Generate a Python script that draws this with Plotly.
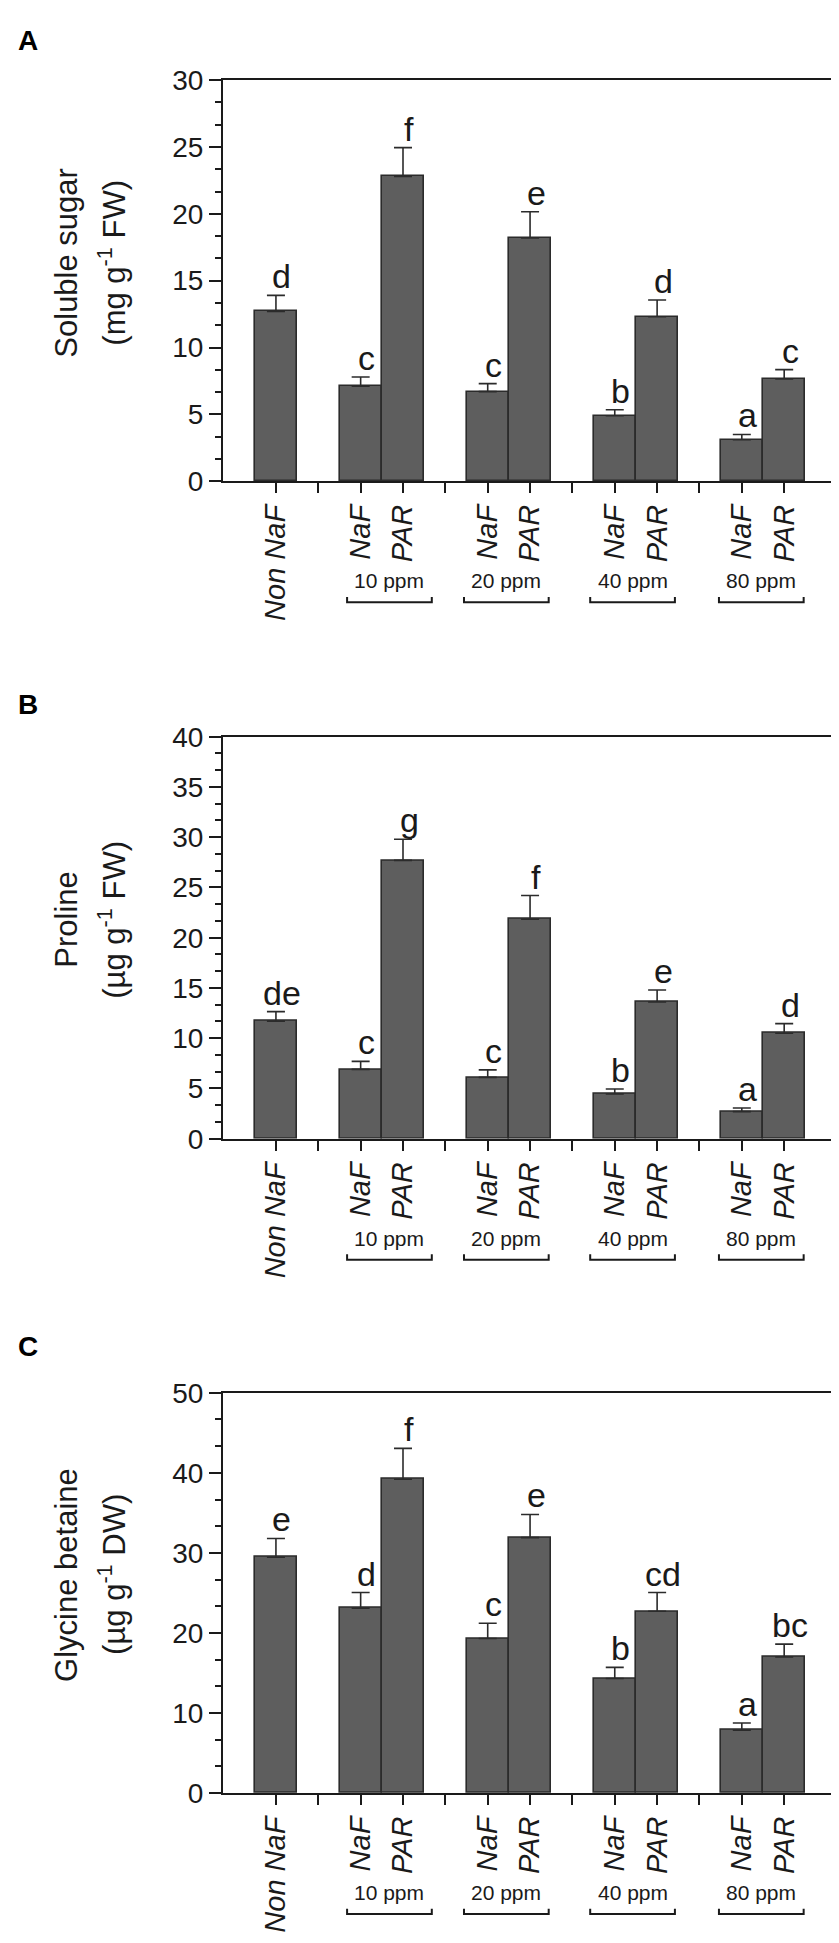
import plotly.graph_objects as go

# x-axis slots: every integer gets a tick, blank slots separate the groups
TICK_LABELS = ["Non NaF", "", "NaF", "PAR", "", "NaF", "PAR", "", "NaF", "PAR", "", "NaF", "PAR"]
GROUPS = ["10 ppm", "20 ppm", "40 ppm", "80 ppm"]

SUGAR_MEAN = [12.7, 7.1, 22.8, 6.7, 18.2, 4.9, 12.3, 3.1, 7.65]
SUGAR_SE = [1.2, 0.7, 2.15, 0.6, 1.95, 0.45, 1.25, 0.4, 0.7]
SUGAR_LETTERS = ["d", "c", "f", "c", "e", "b", "d", "a", "c"]

PROLINE_MEAN = [11.7, 6.9, 27.7, 6.1, 21.85, 4.45, 13.6, 2.7, 10.5]
PROLINE_SE = [0.95, 0.8, 2.1, 0.75, 2.35, 0.5, 1.2, 0.35, 0.95]
PROLINE_LETTERS = ["de", "c", "g", "c", "f", "b", "e", "a", "d"]

GB_MEAN = [29.45, 23.1, 39.2, 19.3, 31.9, 14.3, 22.7, 7.85, 17.0]
GB_SE = [2.35, 1.95, 3.85, 1.9, 2.9, 1.4, 2.35, 0.9, 1.6]
GB_LETTERS = ["e", "d", "f", "c", "e", "b", "cd", "a", "bc"]

PANELS = [
    dict(tag="A", title=("Soluble sugar", "(mg g<sup>-1</sup> FW)"),
         mean=SUGAR_MEAN, se=SUGAR_SE, letters=SUGAR_LETTERS, ymax=30, dtick=5),
    dict(tag="B", title=("Proline", "(µg g<sup>-1</sup> FW)"),
         mean=PROLINE_MEAN, se=PROLINE_SE, letters=PROLINE_LETTERS, ymax=40, dtick=5),
    dict(tag="C", title=("Glycine betaine", "(µg g<sup>-1</sup> DW)"),
         mean=GB_MEAN, se=GB_SE, letters=GB_LETTERS, ymax=50, dtick=10),
]

W, H = 839, 1943
LEFT, RIGHT = 215, 827
# pixel rows of each plot area (top, bottom) and of the panel letters
PANEL_PX = [(58, 465.7), (725.3, 1133.8), (1392, 1798.7)]
TAG_PX = [18, 693, 1345]
BRACKET_NUDGE = [0.18, -0.06, -0.08, -0.04]

FONT = "Liberation Sans, Arial, sans-serif"
INK = "#1a1a1a"
BAR_FILL = "#5e5e5e"
BAR_EDGE = "#2b2b2b"


def py(px):
    return 1 - px / H


bar_x = [i for i, t in enumerate(TICK_LABELS) if t]
gap_x = [i for i, t in enumerate(TICK_LABELS) if not t]
pairs = [(bar_x[1 + 2 * k], bar_x[2 + 2 * k]) for k in range(len(GROUPS))]

fig = go.Figure()
annotations = []
shapes = []

for i, p in enumerate(PANELS):
    n = "" if i == 0 else str(i + 1)
    xa, ya = "x" + n, "y" + n
    top, bottom = PANEL_PX[i]

    fig.add_trace(go.Bar(
        x=bar_x, y=p["mean"], width=0.99, xaxis=xa, yaxis=ya,
        marker=dict(color=BAR_FILL, line=dict(color=BAR_EDGE, width=1.6)),
        error_y=dict(type="data", symmetric=False, array=p["se"],
                     arrayminus=[0] * len(p["se"]), color=BAR_EDGE,
                     thickness=1.6, width=9),
        showlegend=False, hoverinfo="skip",
    ))

    fig.layout["xaxis" + n] = dict(
        domain=[0, 1], anchor=ya, range=[-1.25, 13.2],
        tickmode="array", tickvals=bar_x,
        ticktext=["<i>%s</i>" % TICK_LABELS[j] for j in bar_x],
        tickangle=-90, ticks="outside", ticklen=10, tickwidth=2, tickcolor=INK,
        minor=dict(tickmode="array", tickvals=gap_x, ticks="outside",
                   ticklen=10, tickwidth=2, tickcolor=INK, showgrid=False),
        showline=True, linewidth=2, linecolor=INK, mirror=True,
        showgrid=False, zeroline=False, fixedrange=True,
        tickfont=dict(size=29, family=FONT, color=INK),
    )
    fig.layout["yaxis" + n] = dict(
        domain=[py(bottom), py(top)], anchor=xa, range=[0, p["ymax"]],
        tick0=0, dtick=p["dtick"], ticks="outside", ticklen=12, tickwidth=2,
        tickcolor=INK, showline=True, linewidth=2, linecolor=INK, mirror=True,
        showgrid=False, zeroline=False, fixedrange=True,
        minor=dict(dtick=p["dtick"] / 3, tick0=0, ticks="outside", ticklen=6,
                   tickwidth=1.6, tickcolor=INK, showgrid=False),
        tickfont=dict(size=28, family=FONT, color=INK),
    )

    # significance letters above the error caps
    for x, m, s, lab in zip(bar_x, p["mean"], p["se"], p["letters"]):
        annotations.append(dict(
            x=x, y=m + s, xref=xa, yref=ya, text=lab, showarrow=False,
            xanchor="center", yanchor="bottom", xshift=6, yshift=-2,
            font=dict(size=34, family=FONT, color=INK),
        ))

    # dose labels and brackets under each NaF/PAR pair
    for k, (g, (a, b)) in enumerate(zip(GROUPS, pairs)):
        c = (a + b) / 2 + BRACKET_NUDGE[k]
        annotations.append(dict(
            x=c, y=py(bottom + 101), xref=xa, yref="paper", text=g,
            showarrow=False, xanchor="center", yanchor="middle",
            font=dict(size=21, family=FONT, color=INK),
        ))
        yl, yt = py(bottom + 123), py(bottom + 117.5)
        shapes.append(dict(
            type="path", xref=xa, yref="paper",
            path="M %f,%f L %f,%f L %f,%f L %f,%f" % (c - 1, yt, c - 1, yl, c + 1, yl, c + 1, yt),
            line=dict(color=INK, width=2),
        ))

    # two-line y title and panel tag
    mid = (py(top) + py(bottom)) / 2
    for line, xpx in zip(p["title"], (59, 104)):
        annotations.append(dict(
            x=0, y=mid, xref="paper", yref="paper", text=line, textangle=-90,
            showarrow=False, xanchor="center", yanchor="middle",
            xshift=xpx - LEFT, yshift=18,
            font=dict(size=31, family=FONT, color=INK),
        ))
    annotations.append(dict(
        x=0, y=py(TAG_PX[i]), xref="paper", yref="paper", text="<b>%s</b>" % p["tag"],
        showarrow=False, xanchor="center", yanchor="middle", xshift=20 - LEFT,
        font=dict(size=28, family=FONT, color="#000"),
    ))

fig.update_layout(
    width=W, height=H,
    margin=dict(l=LEFT, r=W - RIGHT, t=0, b=0),
    paper_bgcolor="white", plot_bgcolor="white",
    font=dict(family=FONT, color=INK),
    annotations=annotations, shapes=shapes,
    bargap=0, showlegend=False,
)

fig.write_html("out.html")
